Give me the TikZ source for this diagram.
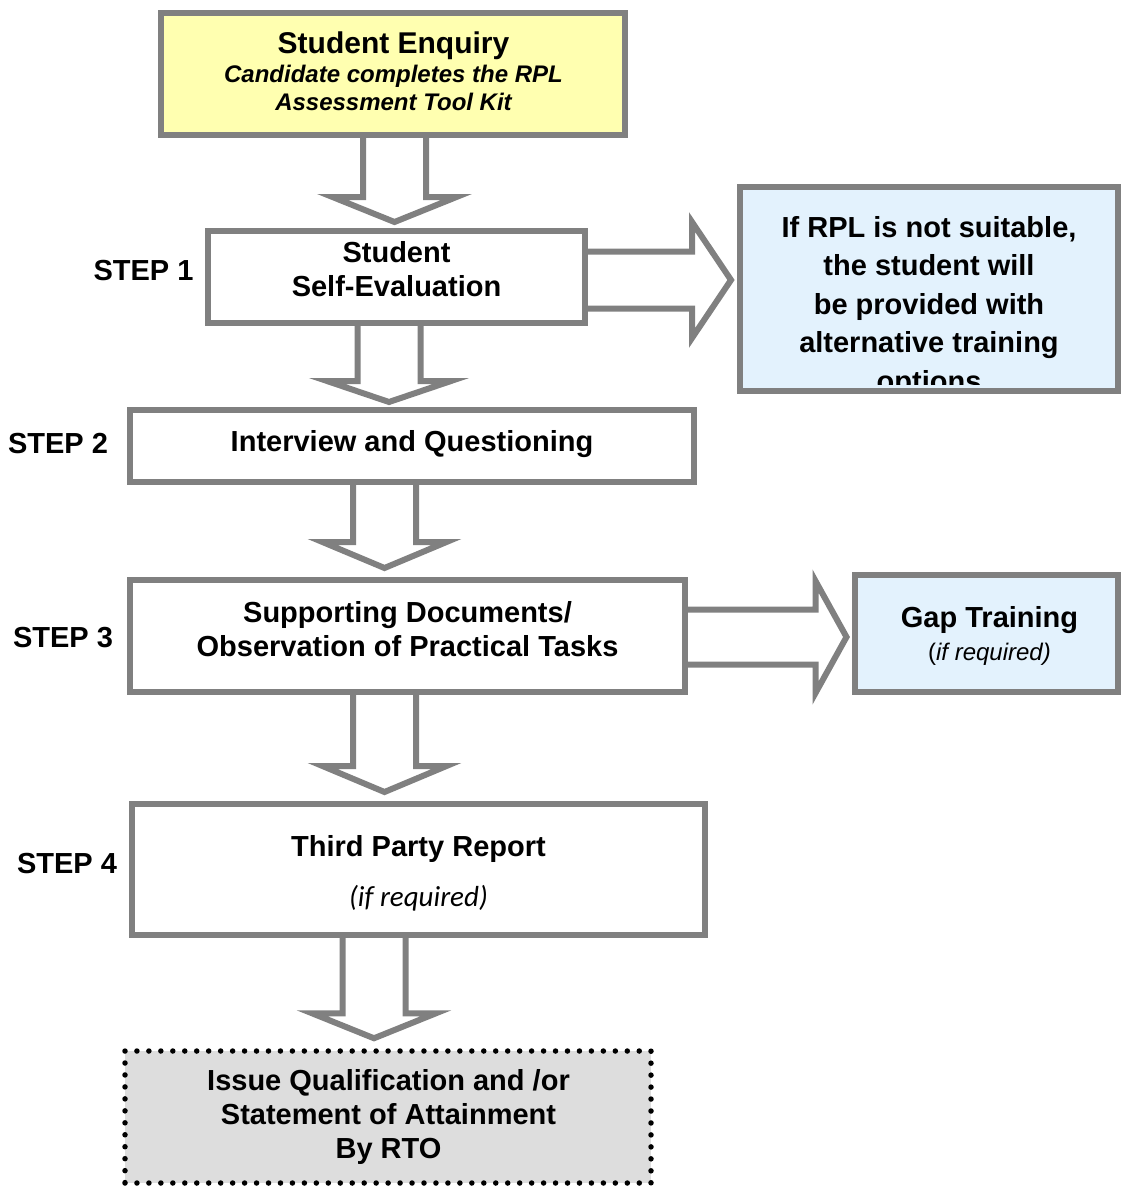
\documentclass[tikz,border=0pt]{standalone}
\usepackage{fontspec}
\setmainfont{Liberation Sans}
\newfontfamily\calib{Carlito}
\usetikzlibrary{backgrounds,calc}
\definecolor{bordergray}{HTML}{808080}
\definecolor{enqyellow}{HTML}{FFFFB0}
\definecolor{paleblue}{HTML}{E3F2FD}
\definecolor{finalgray}{HTML}{DDDDDD}
\tikzset{
  box/.style={draw=bordergray, line width=6pt, inner sep=0pt, rectangle, fill=white},
  txt/.style={anchor=base, inner sep=0pt, font=\bfseries\fontsize{29}{34}\selectfont},
  subtxt/.style={anchor=base, inner sep=0pt, font=\bfseries\itshape\fontsize{24}{28}\selectfont},
  blockarrow/.style={draw=bordergray, line width=6pt, fill=white, line join=miter, miter limit=10},
}
% #1 source node, #2 target node, #3 centre x, #4 tip gap, #5 head length
\newcommand{\dnarrow}[5]{%
  \path[blockarrow] let \p1=(#1.south), \p2=(#2.north) in
    (#3pt-31.5pt,\y1) -- (#3pt-31.5pt,\y2+#4pt+#5pt) -- (#3pt-62pt,\y2+#4pt+#5pt)
    -- (#3pt,\y2+#4pt) -- (#3pt+62pt,\y2+#4pt+#5pt) -- (#3pt+31.5pt,\y2+#4pt+#5pt)
    -- (#3pt+31.5pt,\y1);}
% #1 source, #2 target, #3 centre y (down), #4 half shaft, #5 half head, #6 head length, #7 tip gap
\newcommand{\rtarrow}[7]{%
  \path[blockarrow] let \p1=(#1.east), \p2=(#2.west) in
    (\x1,-#3pt+#4pt) -- (\x2-#7pt-#6pt,-#3pt+#4pt) -- (\x2-#7pt-#6pt,-#3pt+#5pt)
    -- (\x2-#7pt,-#3pt) -- (\x2-#7pt-#6pt,-#3pt-#5pt) -- (\x2-#7pt-#6pt,-#3pt-#4pt)
    -- (\x1,-#3pt-#4pt);}
\begin{document}
\begin{tikzpicture}[x=1pt,y=-1pt]
\useasboundingbox (0,0) rectangle (1121,1186);

% boxes
\node[box, fill=enqyellow, minimum width=464pt, minimum height=122pt] (enq) at (393,74) {};
\node[box, minimum width=377pt, minimum height=92pt] (s1) at (396.5,277) {};
\node[box, fill=paleblue, minimum width=378pt, minimum height=204pt] (nots) at (929,289) {};
\node[box, minimum width=564pt, minimum height=72pt] (s2) at (412,446) {};
\node[box, minimum width=555pt, minimum height=112pt] (s3) at (407.5,636) {};
\node[box, fill=paleblue, minimum width=263pt, minimum height=117pt] (gap) at (986.5,633.5) {};
\node[box, minimum width=573pt, minimum height=131pt] (s4) at (418.5,869.5) {};
\node[draw=black, fill=finalgray, line width=5.5pt, line cap=round,
      dash pattern=on 0pt off 11.96pt, inner sep=0pt,
      minimum width=526pt, minimum height=132pt] (fin) at (388,1117) {};

% connectors (behind the boxes)
\begin{pgfonlayer}{background}
\dnarrow{enq}{s1}{394.5}{6}{25}
\dnarrow{s1}{s2}{389}{5}{21}
\dnarrow{s2}{s3}{384.5}{9}{26}
\dnarrow{s3}{s4}{384.5}{9}{26}
\dnarrow{s4}{fin}{374}{10}{25}
\rtarrow{s1}{nots}{280}{28.5}{58}{39}{6}
\rtarrow{s3}{gap}{637}{27.5}{56}{31}{5.5}
\end{pgfonlayer}

% texts
\node[txt, font=\bfseries\fontsize{30}{34}\selectfont] (enqA) at (393.5,53) {Student Enquiry};
\node[subtxt] (enqB) at (393.5,82) {Candidate completes the RPL};
\node[subtxt] (enqC) at (393.5,110) {Assessment Tool Kit};

\node[txt] (s1A) at (396.5,262) {Student};
\node[txt] (s1B) at (396.5,296) {Self-Evaluation};

\begin{scope}
\clip ($(nots.north west)+(3,3)$) rectangle ($(nots.south east)+(-3,-10)$);
\node[txt] (notsA) at (929,237) {If RPL is not suitable,};
\node[txt] (notsB) at (929,275.5) {the student will};
\node[txt] (notsC) at (929,314) {be provided with};
\node[txt] (notsD) at (929,352.5) {alternative training};
\node[txt] (notsE) at (929,391) {options};
\end{scope}

\node[txt] (s2A) at (412,451) {Interview and Questioning};

\node[txt] (s3A) at (407.5,622) {Supporting Documents/};
\node[txt] (s3B) at (407.5,656) {Observation of Practical Tasks};

\node[txt] (gapA) at (989.5,627) {Gap Training};
\node[anchor=base, inner sep=0pt, font=\fontsize{24}{28}\selectfont] (gapB) at (989.5,660) {(\textit{if required)}};

\node[txt] (s4A) at (418.5,856) {Third Party Report};
\node[anchor=base, inner sep=0pt, font=\calib\itshape\fontsize{29}{32}\selectfont] (s4B) at (418.5,906) {(if required)};

\node[txt] (finA) at (388.5,1090) {Issue Qualification and /or};
\node[txt] (finB) at (388.5,1124) {Statement of Attainment};
\node[txt] (finC) at (388.5,1158) {By RTO};

% step labels
\node[txt] (st1) at (143.5,280) {STEP 1};
\node[txt] (st2) at (58,453) {STEP 2};
\node[txt] (st3) at (63,647) {STEP 3};
\node[txt] (st4) at (67,873) {STEP 4};
\end{tikzpicture}
\end{document}
